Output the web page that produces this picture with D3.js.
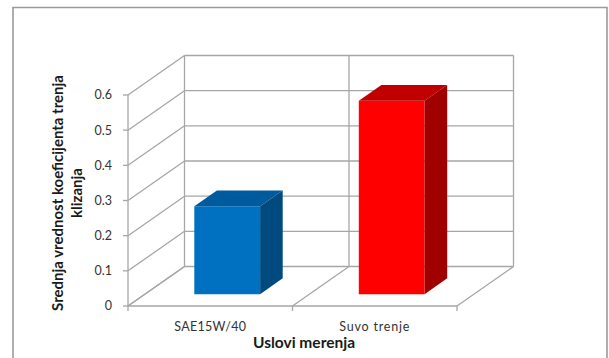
<!DOCTYPE html>
<html>
<head>
<meta charset="utf-8">
<script src="https://cdn.jsdelivr.net/npm/d3@7"></script>
<style>
	body { margin: 0; background: #fff; }
	svg { display: block; }
	text { font-family: Lato, "Open Sans", "Liberation Sans", sans-serif; }
</style>
</head>
<body>
<svg id="chart" width="609" height="358"></svg>
<script>
	var categories = ["SAE15W/40", "Suvo trenje"];
	var values = [0.25, 0.55];
	var tickValues = [0, 0.1, 0.2, 0.3, 0.4, 0.5, 0.6];
	var yTitleLines = ["Srednja  vrednost koeficijenta trenja", "klizanja"];
	var xTitle = "Uslovi merenja";

	var front_colors = ["#0070C0", "#FF0000"];
	var top_colors = ["#005A9E", "#C00000"];
	var side_colors = ["#004A80", "#A00000"];
	var grid_color = "#A6A6A6";

	// depth offset of the 3d box
	var DX = 56.5, DY = -39.5;

	var svg = d3.select("#chart");

	// outer frame
	svg.append("path").attr("d", "M13,358 V7.5 H607 V358")
		.attr("fill", "none").attr("stroke", "#9a9a9a").attr("stroke-width", 1.6);

	var x = d3.scaleBand().domain(categories).range([128, 457]).paddingInner(0).paddingOuter(0);
	var y = d3.scaleLinear().domain([0, 0.6]).range([306, 95]);

	function pt(px, py, depth) { return [px + DX * depth, py + DY * depth]; }
	function poly(points) { return "M" + points.map(function(p){ return p[0] + "," + p[1]; }).join("L") + "Z"; }

	var grid = svg.append("g").attr("stroke", grid_color).attr("stroke-width", 1.3).attr("fill", "none");

	// back wall horizontals + left wall diagonals
	tickValues.forEach(function(t){
		var b0 = pt(128, y(t), 1), b1 = pt(457, y(t), 1);
		grid.append("line").attr("x1", b0[0]).attr("y1", b0[1]).attr("x2", b1[0]).attr("y2", b1[1]);
		grid.append("line").attr("x1", 128).attr("y1", y(t)).attr("x2", b0[0]).attr("y2", b0[1]);
		grid.append("line").attr("x1", 123).attr("y1", y(t)).attr("x2", 128).attr("y2", y(t));
	});

	// floor diagonals, back wall verticals, category ticks
	var edges = categories.map(function(c){ return x(c); }).concat([457]);
	edges.forEach(function(ex){
		var f = pt(ex, y(0), 1), t = pt(ex, y(0.6), 1);
		grid.append("line").attr("x1", ex).attr("y1", y(0)).attr("x2", f[0]).attr("y2", f[1]);
		grid.append("line").attr("x1", f[0]).attr("y1", f[1]).attr("x2", t[0]).attr("y2", t[1]);
		grid.append("line").attr("x1", ex).attr("y1", y(0)).attr("x2", ex).attr("y2", y(0) + 5);
	});
	// front axis and front floor line
	grid.append("line").attr("x1", 128).attr("y1", y(0)).attr("x2", 128).attr("y2", y(0.6));
	grid.append("line").attr("x1", 128).attr("y1", y(0)).attr("x2", 457).attr("y2", y(0));

	// bars
	var d0 = 0.3, d1 = 0.7;
	var bars = svg.append("g");
	categories.forEach(function(c, i){
		var bw = x.bandwidth() * 0.4;
		var xl = x(c) + (x.bandwidth() - bw) / 2, xr = xl + bw;
		var yt = y(values[i]), yb = y(0);
		var g = bars.append("g");
		g.append("path").attr("fill", front_colors[i])
			.attr("d", poly([pt(xl, yt, d0), pt(xr, yt, d0), pt(xr, yb, d0), pt(xl, yb, d0)]));
		g.append("path").attr("fill", top_colors[i])
			.attr("d", poly([pt(xl, yt, d0), pt(xr, yt, d0), pt(xr, yt, d1), pt(xl, yt, d1)]));
		g.append("path").attr("fill", side_colors[i])
			.attr("d", poly([pt(xr, yt, d0), pt(xr, yt, d1), pt(xr, yb, d1), pt(xr, yb, d0)]));
	});

	// y tick labels
	svg.append("g").selectAll("text").data(tickValues).enter().append("text")
		.attr("x", 112).attr("y", function(d){ return y(d); })
		.attr("dy", "0.35em").attr("text-anchor", "end")
		.attr("font-size", 12.5).attr("fill", "#333")
		.text(function(d){ return d === 0 ? "0" : d.toFixed(1); });

	// category labels
	svg.append("g").selectAll("text").data(categories).enter().append("text")
		.attr("x", function(d){ return x(d) + x.bandwidth() / 2; }).attr("y", 331)
		.attr("text-anchor", "middle").attr("font-size", 12.5).attr("fill", "#333")
		.attr("letter-spacing", function(d, i){ return i === 1 ? 0.8 : 0.3; })
		.text(function(d){ return d; });

	// axis titles
	svg.append("text").attr("x", 304).attr("y", 348).attr("text-anchor", "middle")
		.attr("font-size", 15.5).attr("font-weight", "bold").attr("fill", "#1a1a1a").text(xTitle);

	var yt = svg.append("g").attr("transform", "translate(0,193) rotate(-90)");
	yTitleLines.forEach(function(line, i){
		yt.append("text").attr("x", 0).attr("y", 63 + i * 19)
			.attr("text-anchor", "middle").attr("font-size", 15).attr("font-weight", "bold")
			.attr("fill", "#1a1a1a").text(line);
	});
</script>
</body>
</html>
